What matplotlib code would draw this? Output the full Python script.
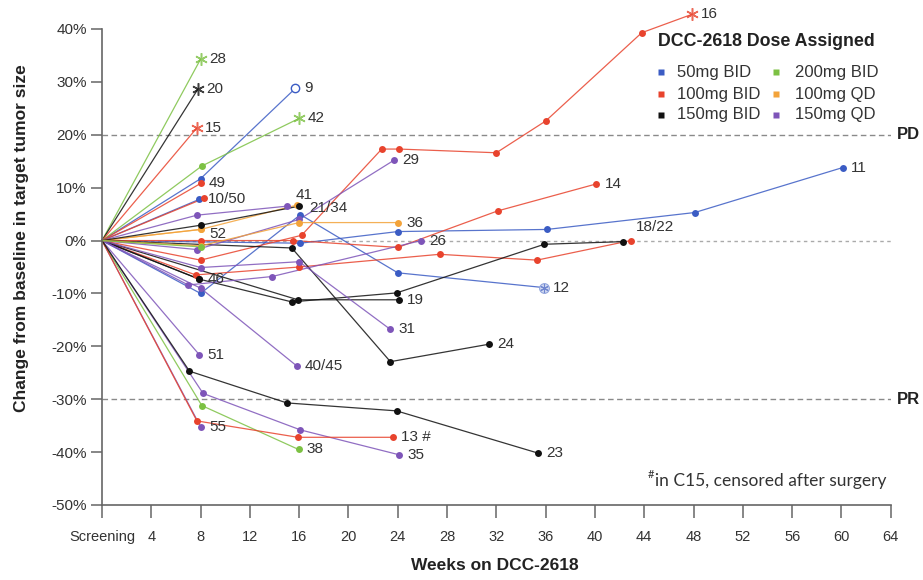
import matplotlib
matplotlib.use('Agg')
import matplotlib.pyplot as plt
from matplotlib.lines import Line2D

# ---------------- data ----------------
dose_names = ['50mg BID', '100mg BID', '150mg BID', '200mg BID', '100mg QD', '150mg QD']
dose_colors = ['#3b5cc4', '#e8432d', '#111111', '#7cc143', '#f3a33a', '#7e55b9']

labels = ['28', '20', '15', '9', '42', '49', '10/50', '', '', '52', '41', '21/34',
          '12', '11', '16', '14', '18/22', '', '46', '19', '24', '29', '26', '31',
          '40/45', '51', '55', '35', '38', '13 #', '23', '36', '']
doses = [3, 2, 1, 0, 3, 1, 0, 1, 5, 4, 4, 2,
         0, 0, 1, 1, 1, 2, 2, 2, 2, 5, 5, 5,
         5, 5, 5, 5, 3, 1, 2, 4, 3]
weeks = [
    [0, 8.0], [0, 7.8], [0, 7.7], [0, 8.0, 15.7], [0, 8.1, 16.0], [0, 8.0],
    [0, 7.9], [0, 8.3], [0, 7.7, 15.0], [0, 8.0], [0, 8.0, 15.8], [0, 8.0, 16.0],
    [0, 8.0, 16.1, 24.0, 35.9], [0, 16.1, 24.0, 36.1, 48.1, 60.1],
    [0, 8.0, 16.2, 22.7, 24.1, 32.0, 36.0, 43.8, 47.9],
    [0, 8.0, 15.5, 24.0, 32.1, 40.1], [0, 7.6, 16.0, 27.4, 35.3, 42.9],
    [0, 7.9, 15.4, 23.9, 35.9, 42.3], [0, 7.9], [0, 15.9, 24.1],
    [0, 15.4, 23.4, 31.4], [0, 7.7, 16.0, 23.7], [0, 7.0, 13.8, 25.9],
    [0, 8.0, 16.0, 23.4], [0, 8.0, 15.8], [0, 7.9], [0, 8.0],
    [0, 8.2, 16.1, 24.1], [0, 8.1, 15.95], [0, 7.7, 15.9, 23.6],
    [0, 7.1, 15.0, 23.9, 35.4], [0, 8.0, 16.0, 24.0], [0, 8.0]]
changes = [
    [0, 34.3], [0, 28.7], [0, 21.3], [0, 11.7, 28.8], [0, 14.1, 23.1], [0, 10.8],
    [0, 7.8], [0, 8.0], [0, 4.8, 6.5], [0, 2.1], [0, 2.1, 6.7], [0, 2.9, 6.5],
    [0, -10.0, 4.9, -6.1, -8.9], [0, -0.5, 1.7, 2.1, 5.3, 13.8],
    [0, -3.7, 1.0, 17.3, 17.3, 16.6, 22.6, 39.3, 42.8],
    [0, 0.0, 0.0, -1.3, 5.6, 10.7], [0, -6.5, -5.0, -2.6, -3.7, 0.0],
    [0, -7.3, -11.6, -9.9, -0.7, -0.2], [0, -7.3], [0, -11.2, -11.2],
    [0, -1.4, -22.9, -19.6], [0, -1.7, 4.0, 15.2], [0, -8.4, -6.8, 0.0],
    [0, -5.1, -4.0, -16.8], [0, -9.0, -23.7], [0, -21.6], [0, -35.2],
    [0, -28.9, -35.8, -40.5], [0, -31.2, -39.5], [0, -34.1, -37.2, -37.2],
    [0, -24.7, -30.7, -32.2, -40.2], [0, -1.0, 3.4, 3.4], [0, -1.2]]

x_ticks = [0, 4, 8, 12, 16, 20, 24, 28, 32, 36, 40, 44, 48, 52, 56, 60, 64]
x_ticklabels = ['Screening', '4', '8', '12', '16', '20', '24', '28', '32', '36',
                '40', '44', '48', '52', '56', '60', '64']
y_ticks = [-50, -40, -30, -20, -10, 0, 10, 20, 30, 40]
pd_level = 20
pr_level = -30

# ---------------- style ----------------
end_style = ['ast', 'ast', 'ast', 'open', 'ast', 'dot', 'dot', 'dot', 'dot', 'dot', 'dot', 'dot',
             'astcircle', 'dot', 'ast', 'dot', 'dot', 'dot', 'dot', 'dot', 'dot', 'dot', 'dot', 'dot',
             'dot', 'dot', 'dot', 'dot', 'dot', 'dot', 'dot', 'dot', 'dot']
label_offsets = {'41': (-1, 7), '52': (6, -3), '18/22': (4, 5), '9': (6, 0),
                 '10/50': (6, 0), '21/34': (7, -1)}

plt.rcParams['font.family'] = ['Liberation Sans', 'DejaVu Sans']

fig = plt.figure(figsize=(9.23, 5.8), dpi=100)
W, H = 923, 580
ax = fig.add_axes([102 / W, 1 - 505 / H, (890.7 - 102) / W, (505 - 29) / H])
ax.set_xlim(0, 64)
ax.set_ylim(-50, 40)

# reference lines
ax.axhline(pd_level, color='#8a8a8a', lw=1.0, dashes=(4, 2.5), zorder=1)
ax.axhline(pr_level, color='#8a8a8a', lw=1.0, dashes=(4, 2.5), zorder=1)
ax.axhline(0, color='#aaaaaa', lw=1.0, dashes=(2.5, 2.5), zorder=1)

for lab, d, w, c, es in zip(labels, doses, weeks, changes, end_style):
    col = dose_colors[d]
    ax.plot(w, c, color=col, lw=0.9, zorder=2, clip_on=False, alpha=0.85)
    ax.plot(w[1:-1], c[1:-1], 'o', color=col, ms=5, zorder=3, clip_on=False, mec='none')
    if es == 'dot':
        ax.plot(w[-1:], c[-1:], 'o', color=col, ms=5, zorder=3, clip_on=False, mec='none')
    elif es == 'ast':
        ax.plot(w[-1:], c[-1:], marker=(6, 2, 0), color=col, ms=9, mew=1.1,
                zorder=3, clip_on=False, alpha=0.8)
    elif es == 'open':
        ax.plot(w[-1:], c[-1:], 'o', mfc='white', mec=col, ms=6, mew=1.0,
                zorder=3, clip_on=False)
    elif es == 'astcircle':
        ax.plot(w[-1:], c[-1:], 'o', mfc='#d5dcf2', mec='#8fa3dc', ms=7, mew=0.8,
                zorder=3, clip_on=False)
        ax.plot(w[-1:], c[-1:], marker=(6, 2, 0), color='#6f86cf', ms=6, mew=0.8,
                zorder=4, clip_on=False)
    if lab:
        off = label_offsets.get(lab, (6, 0))
        va = 'bottom' if lab == '18/22' else 'center'
        ax.annotate(lab, (w[-1], c[-1]), xytext=off, textcoords='offset points',
                    ha='left', va=va, fontsize=11, color='#333333',
                    annotation_clip=False, zorder=5)

# axes styling
for s in ['top', 'right']:
    ax.spines[s].set_visible(False)
for s in ['left', 'bottom']:
    ax.spines[s].set_color('#666666')
    ax.spines[s].set_linewidth(1.2)
ax.set_xticks(x_ticks)
ax.set_xticklabels(x_ticklabels)
ax.set_yticks(y_ticks)
ax.set_yticklabels([f'{v}%' for v in y_ticks])
ax.tick_params(axis='x', direction='out', length=9, width=1.1, color='#666666',
               pad=9, labelsize=10.5, labelcolor='#333333')
ax.tick_params(axis='y', direction='out', length=8, width=1.1, color='#666666',
               pad=3, labelsize=11, labelcolor='#333333')

# PD / PR labels
ax.text(1.008, (pd_level + 50) / 90, 'PD', transform=ax.transAxes, ha='left', va='center',
        fontsize=12, fontweight='bold', color='#222222')
ax.text(1.008, (pr_level + 50) / 90, 'PR', transform=ax.transAxes, ha='left', va='center',
        fontsize=12, fontweight='bold', color='#222222')

# axis titles
fig.text(495 / W, 1 - 565 / H, 'Weeks on DCC-2618', ha='center', va='center',
         fontsize=12.5, fontweight='bold', color='#222222')
fig.text(22 / W, 1 - 238 / H, 'Change from baseline in target tumor size', rotation=90,
         ha='center', va='center', fontsize=12.5, fontweight='bold', color='#222222')

# legend (manual)
fig.text(766 / W, 1 - 42 / H, 'DCC-2618 Dose Assigned', ha='center', va='center',
         fontsize=12.8, fontweight='bold', color='#222222')
col_marker_x = [661, 776]
col_text_x = [677, 795]
row_y = [72, 94, 115]
for i, (name, col) in enumerate(zip(dose_names, dose_colors)):
    ci, ri = divmod(i, 3)
    mx, tx, yy = col_marker_x[ci], col_text_x[ci], row_y[ri]
    fig.add_artist(Line2D([mx / W], [1 - yy / H], marker='s', ms=5, color=col,
                          mec='none', transform=fig.transFigure))
    fig.text(tx / W, 1 - yy / H, name, ha='left', va='center', fontsize=12,
             color='#333333')

# footnote
fig.text(648 / W, 1 - 474 / H, '#', ha='left', va='center', fontsize=8,
         color='#333333', family=['Lato', 'DejaVu Sans'])
fig.text(655 / W, 1 - 481 / H, 'in C15, censored after surgery', ha='left', va='center',
         fontsize=12.5, color='#333333', family=['Lato', 'DejaVu Sans'])

fig.savefig('out.png', dpi=100)
